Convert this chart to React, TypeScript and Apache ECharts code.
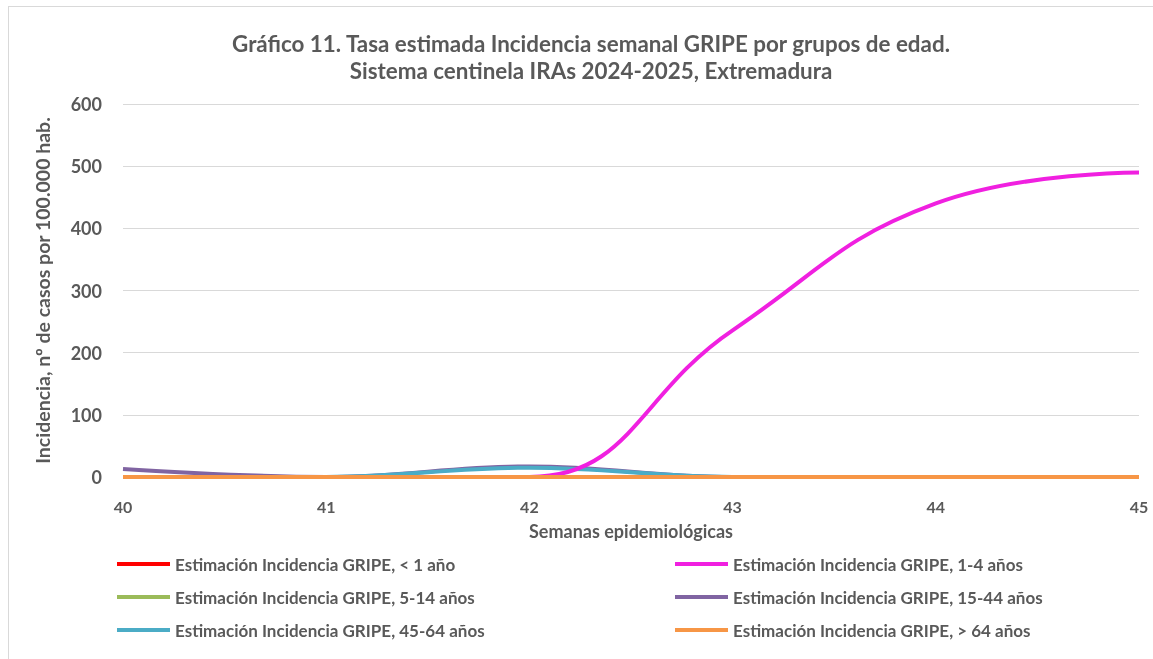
import React, { useEffect, useRef } from "react";
import * as echarts from "echarts";

const weeks = ["40", "41", "42", "43", "44", "45"];
const menos1 = [0, 0, 0, 0, 0, 0];
const de1a4 = [0, 0, 0, 236, 440, 490];
const de5a14 = [0, 0, 0, 0, 0, 0];
const de15a44 = [13, 0, 17, 0, 0, 0];
const de45a64 = [0, 0, 15, 0, 0, 0];
const mas64 = [0, 0, 0, 0, 0, 0];

const names = [
  "Estimación Incidencia GRIPE, < 1 año",
  "Estimación Incidencia GRIPE, 1-4 años",
  "Estimación Incidencia GRIPE, 5-14 años",
  "Estimación Incidencia GRIPE, 15-44 años",
  "Estimación Incidencia GRIPE, 45-64 años",
  "Estimación Incidencia GRIPE, > 64 años",
];

const FONT = "Lato, 'Open Sans', sans-serif";
const GREY = "#595959";

export default function App() {
  const ref = useRef<HTMLDivElement>(null);
  useEffect(() => {
    if (!ref.current) return;
    const chart = echarts.init(ref.current, undefined, { renderer: "svg" });
    const mk = (name: string, data: any[], color: string, z: number, extra: any = {}) => ({
      name,
      type: "line",
      data,
      smooth: 0.4,
      symbol: "none",
      z,
      lineStyle: { color, width: 4 },
      itemStyle: { color },
      ...extra,
    });
    const legendText = { fontSize: 17, fontWeight: "bold", color: GREY, lineHeight: 20, fontFamily: FONT };
    chart.setOption({
      animation: false,
      textStyle: { fontFamily: FONT },
      title: {
        text: "Gráfico 11. Tasa estimada Incidencia semanal GRIPE por grupos de edad.\nSistema centinela IRAs 2024-2025, Extremadura",
        left: 577,
        textAlign: "center",
        top: 18,
        textStyle: { fontSize: 22.4, fontWeight: "bold", color: GREY, lineHeight: 27, fontFamily: FONT },
      },
      grid: { left: 114, right: 14, top: 97, bottom: 182, containLabel: false },
      xAxis: {
        type: "category",
        data: weeks,
        boundaryGap: false,
        name: "Semanas epidemiológicas",
        nameLocation: "middle",
        nameGap: 45,
        nameTextStyle: { fontSize: 18, fontWeight: "bold", color: GREY, fontFamily: FONT },
        axisLine: { show: false },
        axisTick: { show: false },
        axisLabel: { fontSize: 16, fontWeight: "bold", color: GREY, margin: 21, fontFamily: FONT },
        splitLine: { show: false },
      },
      yAxis: {
        type: "value",
        min: 0,
        max: 600,
        interval: 100,
        name: "Incidencia, nº de casos por 100.000 hab.",
        nameLocation: "middle",
        nameGap: 71,
        nameTextStyle: { fontSize: 19.5, fontWeight: "bold", color: GREY, fontFamily: FONT },
        axisLine: { show: false },
        axisTick: { show: false },
        axisLabel: { fontSize: 18, fontWeight: "bold", color: GREY, margin: 21, fontFamily: FONT },
        splitLine: { lineStyle: { color: "#d9d9d9", width: 1 } },
      },
      legend: [
        {
          data: [names[0], names[2], names[4]],
          orient: "vertical",
          left: 108,
          top: 547,
          padding: 0,
          itemWidth: 53,
          itemHeight: 4,
          itemGap: 13,
          icon: "rect",
          textStyle: legendText,
        },
        {
          data: [names[1], names[3], names[5]],
          orient: "vertical",
          left: 666,
          top: 547,
          padding: 0,
          itemWidth: 53,
          itemHeight: 4,
          itemGap: 13,
          icon: "rect",
          textStyle: legendText,
        },
      ],
      series: [
        mk(names[0], menos1, "#ff0000", 2),
        mk(names[2], de5a14, "#9bbb59", 3),
        mk(names[3], de15a44, "#8064a2", 4),
        mk(names[4], de45a64, "#4bacc6", 5),
        mk(names[1], de1a4, "#f020e0", 6, { smooth: 0.45, smoothConstraint: false }),
        mk(names[5], mas64, "#f79646", 7),
      ],
    });
    return () => chart.dispose();
  }, []);
  return (
    <div
      ref={ref}
      style={{
        position: "fixed",
        left: 8,
        top: 6,
        width: 1145,
        height: 653,
        boxSizing: "border-box",
        borderLeft: "1px solid #d9d9d9",
        borderTop: "1px solid #d9d9d9",
      }}
    />
  );
}
